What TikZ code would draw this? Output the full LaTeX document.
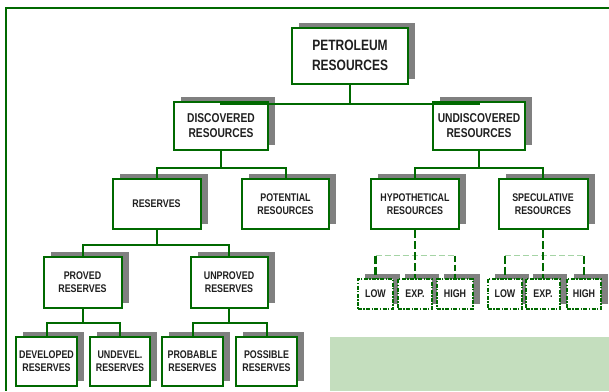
\documentclass[tikz,border=0pt]{standalone}
\usepackage{fontspec}
\setmainfont{Liberation Sans}[FakeStretch=0.8]
\usetikzlibrary{shadows,calc}
\definecolor{boxgreen}{RGB}{0,105,0}
\definecolor{shadowgray}{RGB}{128,128,128}
\definecolor{palegreen}{RGB}{165,212,165}
\definecolor{notegreen}{RGB}{196,222,190}
\tikzset{
  box/.style={draw=boxgreen, line width=2pt, fill=white, inner sep=0pt,
    align=center, text=black!88,
    general shadow={fill=shadowgray, shadow xshift=7pt, shadow yshift=5pt}},
  bigtext/.style={font=\bfseries\fontsize{15}{20}\selectfont},
  midtext/.style={font=\bfseries\fontsize{12.8}{15}\selectfont},
  smalltext/.style={font=\bfseries\fontsize{11.1}{12.8}\selectfont},
  casebox/.style={box, line width=2.9pt,
    dash pattern=on 4pt off 1.4pt on 1.4pt off 1.4pt,
    minimum width=34pt, minimum height=30pt, smalltext},
  link/.style={draw=boxgreen, line width=2pt},
  caselink/.style={draw=boxgreen, line width=2.7pt, dash pattern=on 8pt off 3pt},
  thincaselink/.style={draw=boxgreen, line width=1.4pt, dash pattern=on 6pt off 3pt},
  spanlink/.style={draw=palegreen, line width=1pt, dash pattern=on 6pt off 3pt},
}
\begin{document}
\begin{tikzpicture}[x=1pt,y=-1pt]
\useasboundingbox (0,0) rectangle (609,391);

% outer frame and shaded note panel
\fill[notegreen] (330,337) rectangle (609,391);
\draw[boxgreen, line width=2pt] (609,8) -- (6,8) -- (6,391);

% hierarchy boxes
\node[box, bigtext, minimum width=116pt, minimum height=56pt] (pet) at (350,55.5) {PETROLEUM\\RESOURCES};
\node[box, midtext, minimum width=94pt, minimum height=48pt] (disc) at (221,126) {DISCOVERED\\RESOURCES};
\node[box, midtext, minimum width=92pt, minimum height=48pt] (undisc) at (479,126) {UNDISCOVERED\\RESOURCES};
\node[box, smalltext, minimum width=88pt, minimum height=50pt] (res) at (156.5,204) {RESERVES};
\node[box, smalltext, minimum width=87pt, minimum height=50pt] (pot) at (285.5,204) {POTENTIAL\\RESOURCES};
\node[box, smalltext, minimum width=88pt, minimum height=50pt] (hyp) at (415,204) {HYPOTHETICAL\\RESOURCES};
\node[box, smalltext, minimum width=89pt, minimum height=50pt] (spec) at (543,204) {SPECULATIVE\\RESOURCES};
\node[box, smalltext, minimum width=78pt, minimum height=51pt] (proved) at (82.5,282.5) {PROVED\\RESERVES};
\node[box, smalltext, minimum width=77pt, minimum height=51pt] (unproved) at (229,282.5) {UNPROVED\\RESERVES};
\node[box, smalltext, minimum width=61pt, minimum height=49pt] (dev) at (46.5,361.5) {DEVELOPED\\RESERVES};
\node[box, smalltext, minimum width=60pt, minimum height=49pt] (undev) at (120,361.5) {UNDEVEL.\\RESERVES};
\node[box, smalltext, minimum width=61pt, minimum height=49pt] (prob) at (192.5,361.5) {PROBABLE\\RESERVES};
\node[box, smalltext, minimum width=61pt, minimum height=49pt] (poss) at (266.5,361.5) {POSSIBLE\\RESERVES};

% low / expected / high cases
\node[casebox, minimum width=35pt] (low1) at (375.5,294) {LOW};
\node[casebox] (exp1) at (415,294) {EXP.};
\node[casebox, minimum width=36pt] (high1) at (455,294) {HIGH};
\node[casebox] (low2) at (505,294) {LOW};
\node[casebox] (exp2) at (543,294) {EXP.};
\node[casebox] (high2) at (584,294) {HIGH};

% solid tree connectors
\draw[link] (pet.south) -- ++(0,19.5) coordinate (j0);
\draw[link] (disc.north) |- (j0) -| (undisc.north);
\draw[link] (disc.south) -- ++(0,17) coordinate (j1);
\draw[link] (res.north) |- (j1) -| (pot.north);
\draw[link] (undisc.south) -- ++(0,17) coordinate (j2);
\draw[link] (hyp.north) |- (j2) -| (spec.north);
\draw[link] (res.south) -- ++(0,15) coordinate (j3);
\draw[link] (proved.north) |- (j3) -| (unproved.north);
\draw[link] (proved.south) -- ++(0,14) coordinate (j4);
\draw[link] (dev.north) |- (j4) -| (undev.north);
\draw[link] (unproved.south) -- ++(0,14) coordinate (j5);
\draw[link] (prob.north) |- (j5) -| (poss.north);

% dashed connectors to the cases
\coordinate (h1) at (0,255.5);
\draw[spanlink] (low1.north |- h1) -- (high1.north |- h1);
\draw[spanlink] (low2.north |- h1) -- (high2.north |- h1);
\draw[caselink] (hyp.south) -- (exp1.north);
\draw[caselink] (low1.north |- h1) -- (low1.north);
\draw[thincaselink] (high1.north |- h1) -- (high1.north);
\draw[caselink] (spec.south) -- (exp2.north);
\draw[caselink] (low2.north |- h1) -- (low2.north);
\draw[caselink] (high2.north |- h1) -- (high2.north);
\end{tikzpicture}
\end{document}
